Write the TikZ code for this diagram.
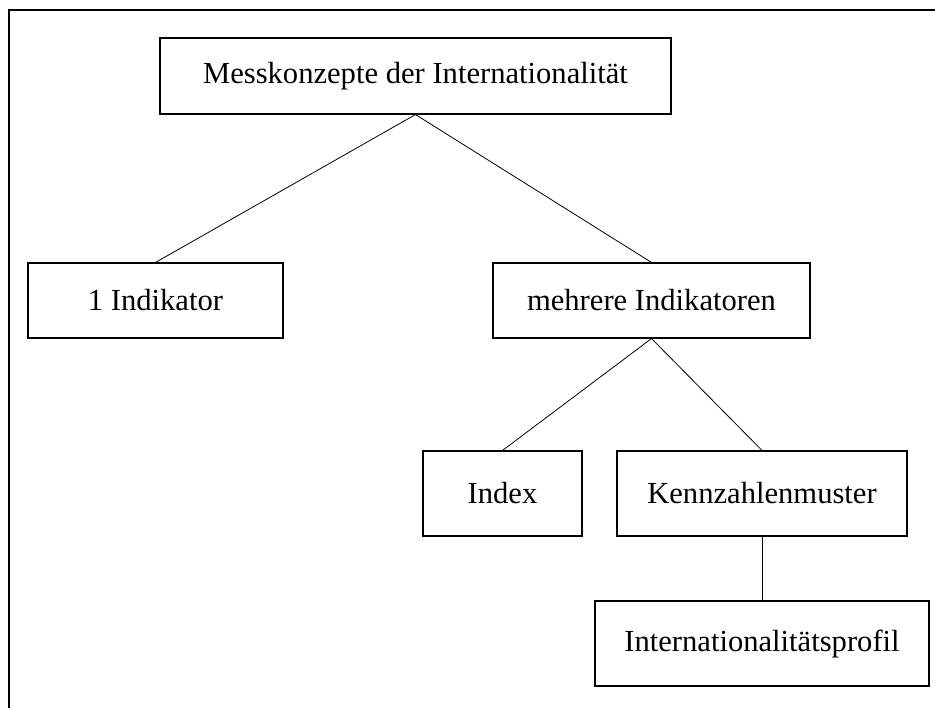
\documentclass[tikz,border=0pt]{standalone}
\usepackage{fontspec}
\setmainfont{Liberation Serif}
\begin{document}
\begin{tikzpicture}[x=1pt,y=-1pt,
  box/.style={draw=black,line width=1.1pt,rectangle,inner sep=0pt,
    font=\fontsize{30.6}{36}\selectfont,text=black},
  link/.style={draw=black,line width=0.8pt}]
\useasboundingbox (0,0) rectangle (935,708);
% open frame: top and left edge
\draw[line width=2pt] (9,708) -- (9,10) -- (935,10);
% boxes: centre, width, height
\node[box,minimum width=511pt,minimum height=76pt] (root) at (415.5,76) {Messkonzepte der Internationalität};
\node[box,minimum width=255pt,minimum height=75pt] (one) at (155.5,300.5) {1 Indikator};
\node[box,minimum width=317pt,minimum height=75pt] (many) at (651.5,300.5) {mehrere Indikatoren};
\node[box,minimum width=159pt,minimum height=85pt] (idx) at (502.5,493.5) {Index};
\node[box,minimum width=290pt,minimum height=85pt] (kzm) at (762,493.5) {Kennzahlenmuster};
\node[box,minimum width=334pt,minimum height=85pt] (prof) at (762,643.5) {Internationalitätsprofil};
% connectors
\draw[link] (root.south) -- (one.north);
\draw[link] (root.south) -- (many.north);
\draw[link] (many.south) -- (idx.north);
\draw[link] (many.south) -- (kzm.north);
\draw[link] (kzm.south) -- (prof.north);
\end{tikzpicture}
\end{document}
